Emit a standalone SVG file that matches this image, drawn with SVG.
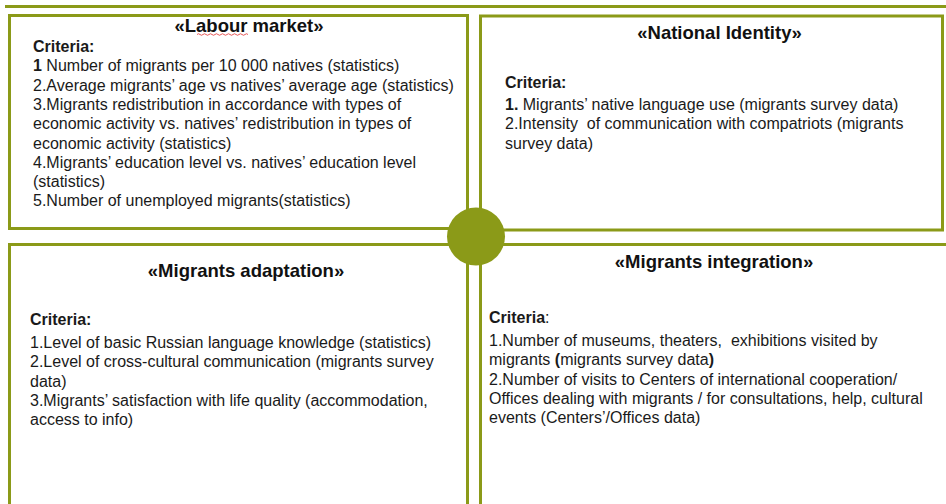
<svg xmlns="http://www.w3.org/2000/svg" width="946" height="504" viewBox="0 0 946 504">
<style>
.box{fill:#fff;stroke:#8B9A18;stroke-width:3}
.t{font-family:"Liberation Sans",Arial,sans-serif;font-size:18.5px;font-weight:bold;fill:#111;text-anchor:middle}
.b{font-family:"Liberation Sans",Arial,sans-serif;font-size:16px;fill:#1a1a1a;white-space:pre}
.k{font-weight:bold}
</style>
<rect width="946" height="504" fill="#fff"/>
<g id="top-bar"><rect x="5" y="5" width="941" height="3" fill="#8B9A18"/></g>
<g id="labour-market">
<rect class="box" x="9.5" y="15.5" width="458" height="213"/>
<text class="t" x="249" y="32">«Labour market»</text>
<path d="M197 34.5 q1.5 -1.5 3 0 t3 0 t3 0 t3 0 t3 0 t3 0 t3 0 t3 0 t3 0 t3 0 t3 0 t3 0 t3 0 t3 0 t3 0 t3 0 t3 0" fill="none" stroke="#e03030" stroke-width="0.8"/>
<text class="b" x="33" y="52"><tspan class="k">Criteria:</tspan></text>
<text class="b" x="33" y="71.3"><tspan class="k">1</tspan> Number of migrants per 10 000 natives (statistics)</text>
<text class="b" x="33" y="90.6">2.Average migrants’ age vs natives’ average age (statistics)</text>
<text class="b" x="33" y="109.9">3.Migrants redistribution in accordance with types of</text>
<text class="b" x="33" y="129.2">economic activity vs. natives’ redistribution in types of</text>
<text class="b" x="33" y="148.5">economic activity (statistics)</text>
<text class="b" x="33" y="167.8">4.Migrants’ education level vs. natives’ education level</text>
<text class="b" x="33" y="187.1">(statistics)</text>
<text class="b" x="33" y="206.4">5.Number of unemployed migrants(statistics)</text>
</g>
<g id="national-identity">
<rect class="box" x="480.5" y="16" width="462" height="214"/>
<text class="t" x="719.5" y="39">«National Identity»</text>
<text class="b" x="505" y="88"><tspan class="k">Criteria:</tspan></text>
<text class="b" x="505" y="110"><tspan class="k">1.</tspan> Migrants’ native language use (migrants survey data)</text>
<text class="b" x="505" y="129.3" xml:space="preserve">2.Intensity  of communication with compatriots (migrants</text>
<text class="b" x="505" y="148.6">survey data)</text>
</g>
<g id="migrants-adaptation">
<rect class="box" x="9.5" y="244.5" width="458" height="270"/>
<text class="t" x="246" y="277">«Migrants adaptation»</text>
<text class="b" x="30" y="325"><tspan class="k">Criteria:</tspan></text>
<text class="b" x="30" y="348">1.Level of basic Russian language knowledge (statistics)</text>
<text class="b" x="30" y="367.3">2.Level of cross-cultural communication (migrants survey</text>
<text class="b" x="30" y="386.6">data)</text>
<text class="b" x="30" y="405.9">3.Migrants’ satisfaction with life quality (accommodation,</text>
<text class="b" x="30" y="425.2">access to info)</text>
</g>
<g id="migrants-integration">
<rect class="box" x="480.5" y="244.5" width="470" height="270"/>
<text class="t" x="714" y="268">«Migrants integration»</text>
<text class="b" x="489" y="323"><tspan class="k">Criteria</tspan>:</text>
<text class="b" x="489" y="346" xml:space="preserve">1.Number of museums, theaters,  exhibitions visited by</text>
<text class="b" x="489" y="365.3">migrants <tspan class="k">(</tspan>migrants survey data<tspan class="k">)</tspan></text>
<text class="b" x="489" y="384.6">2.Number of visits to Centers of international cooperation/</text>
<text class="b" x="489" y="403.9">Offices dealing with migrants / for consultations, help, cultural</text>
<text class="b" x="489" y="423.2">events (Centers’/Offices data)</text>
</g>
<g id="connectors"></g>
<g id="hub"><circle cx="476" cy="236.5" r="29" fill="#8B9A18"/></g>
</svg>
